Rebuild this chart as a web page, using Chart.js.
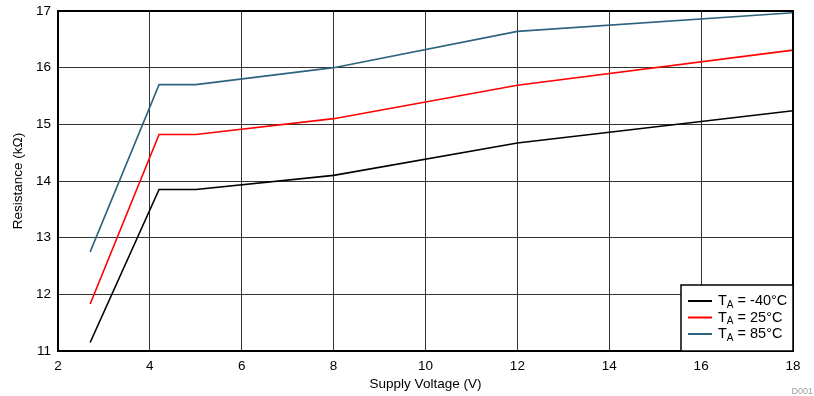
<!DOCTYPE html>
<html>
<head>
<meta charset="utf-8">
<script src="https://cdn.jsdelivr.net/npm/chart.js@4"></script>
<style>
  html, body { margin: 0; padding: 0; background: #fff; }
  #wrap { width: 814px; height: 396px; position: relative; }
</style>
</head>
<body>
<div id="wrap"><canvas id="chart"></canvas></div>
<script>
// Supply voltage (V)
const voltage = [2.7, 4.2, 5, 8, 12, 18];
// Resistance (kOhm) per temperature
const resMinus40 = [11.15, 13.85, 13.85, 14.1, 14.67, 15.24];
const res25 = [11.83, 14.82, 14.82, 15.1, 15.69, 16.31];
const res85 = [12.75, 15.7, 15.7, 16.0, 16.64, 16.97];
const seriesTemps = ["-40°C", "25°C", "85°C"];
const seriesColors = ["#000000", "#ff0000", "#2e6380"];

const FONT = "'Liberation Sans', Arial, sans-serif";

function toPoints(ys) {
  return voltage.map((v, i) => ({ x: v, y: ys[i] }));
}

// Legend with subscript "A", drawn by hand
const legendPlugin = {
  id: "taLegend",
  afterDraw(chart) {
    const ctx = chart.ctx;
    const area = chart.chartArea;
    const w = 112, h = 66;
    const x0 = area.right - w, y0 = area.bottom - h;
    ctx.save();
    ctx.fillStyle = "#fff";
    ctx.fillRect(x0, y0, w, h);
    ctx.strokeStyle = "#000";
    ctx.lineWidth = 1.5;
    ctx.strokeRect(x0, y0, w, h);
    chart.data.datasets.forEach((ds, i) => {
      const cy = y0 + 16 + i * 16.5;
      ctx.strokeStyle = ds.borderColor;
      ctx.lineWidth = 2;
      ctx.beginPath();
      ctx.moveTo(x0 + 7, cy);
      ctx.lineTo(x0 + 31, cy);
      ctx.stroke();
      ctx.fillStyle = "#000";
      ctx.textBaseline = "middle";
      ctx.font = "14.5px " + FONT;
      ctx.fillText("T", x0 + 37, cy);
      const tw = ctx.measureText("T").width;
      ctx.font = "10px " + FONT;
      ctx.fillText("A", x0 + 37 + tw, cy + 4);
      const aw = ctx.measureText("A").width;
      ctx.font = "14.5px " + FONT;
      ctx.fillText(" = " + seriesTemps[i], x0 + 37 + tw + aw, cy);
    });
    ctx.restore();
  }
};

// Thick frame and "D001" mark
const framePlugin = {
  id: "frame",
  afterDatasetsDraw(chart) {
    const ctx = chart.ctx;
    const a = chart.chartArea;
    ctx.save();
    ctx.strokeStyle = "#000";
    ctx.lineWidth = 2;
    ctx.strokeRect(a.left, a.top, a.right - a.left, a.bottom - a.top);
    ctx.restore();
  },
  afterDraw(chart) {
    const ctx = chart.ctx;
    ctx.save();
    ctx.fillStyle = "#a0a0a0";
    ctx.font = "9px " + FONT;
    ctx.textAlign = "right";
    ctx.textBaseline = "middle";
    ctx.fillText("D001", 813, 392);
    ctx.restore();
  }
};

const datasets = [resMinus40, res25, res85].map((ys, i) => ({
  data: toPoints(ys),
  borderColor: seriesColors[i],
  borderWidth: 1.6,
  pointRadius: 0,
  tension: 0,
  fill: false
}));

new Chart(document.getElementById("chart"), {
  type: "line",
  data: { datasets },
  options: {
    responsive: true,
    maintainAspectRatio: false,
    animation: false,
    layout: { padding: { top: 11, right: 21, left: 0, bottom: 0 } },
    plugins: { legend: { display: false }, tooltip: { enabled: false } },
    scales: {
      x: {
        type: "linear",
        min: 2, max: 18,
        ticks: { stepSize: 2, color: "#000", font: { family: FONT, size: 13.5 }, padding: 7 },
        grid: { color: "#333", lineWidth: 1, drawTicks: false },
        border: { display: false },
        title: { display: true, text: "Supply Voltage (V)", color: "#000", font: { family: FONT, size: 13.5 }, padding: { top: 4, bottom: 4 } },
        afterFit(scale) { scale.height = 45; scale.paddingLeft = 0; scale.paddingRight = 0; }
      },
      y: {
        type: "linear",
        min: 11, max: 17,
        ticks: { stepSize: 1, color: "#000", font: { family: FONT, size: 13.5 }, padding: 7 },
        grid: { color: "#333", lineWidth: 1, drawTicks: false },
        border: { display: false },
        title: { display: true, text: "Resistance (kΩ)", color: "#000", font: { family: FONT, size: 13.5 }, padding: { top: 10, bottom: 0 } },
        afterFit(scale) { scale.width = 58; scale.paddingTop = 0; scale.paddingBottom = 0; }
      }
    }
  },
  plugins: [framePlugin, legendPlugin]
});
</script>
</body>
</html>
